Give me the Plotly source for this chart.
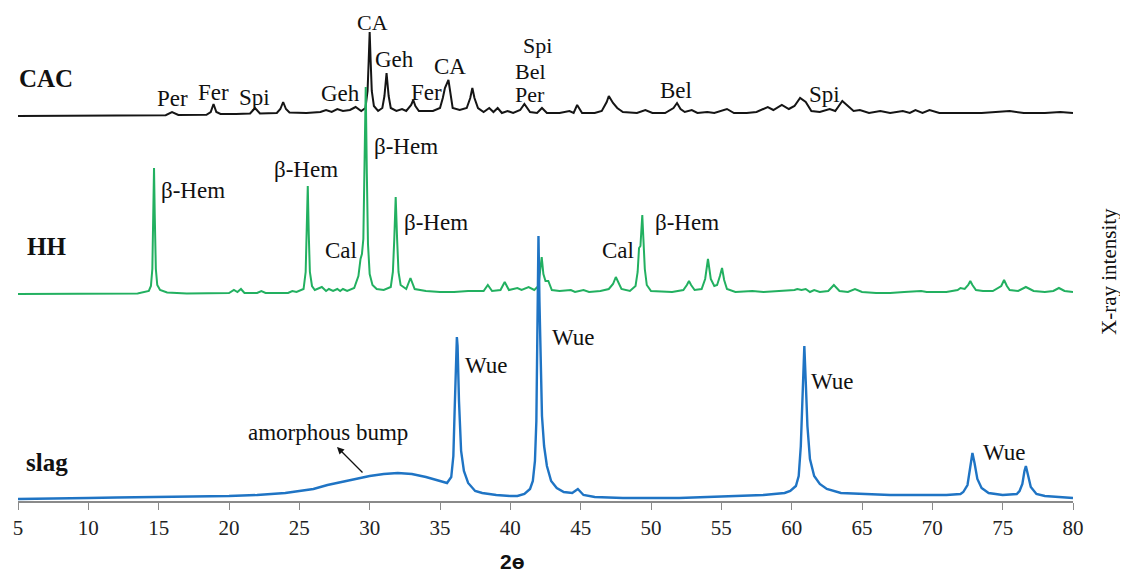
import plotly.graph_objects as go

# ---------------- data (2-theta in degrees, intensity in arbitrary units above each baseline) ----------------
cac_2theta = [5.0, 8.0, 12.0, 15.5, 15.95, 16.4, 18.4, 18.7, 18.9, 19.1, 19.4, 20.5, 21.5, 21.85, 22.2,
              23.4, 23.65, 23.85, 24.05, 24.3, 25.5, 26.5, 26.9, 27.3, 27.7, 28.1, 28.6, 29.0, 29.4,
              29.7, 29.85, 29.93, 30.0, 30.07, 30.15, 30.3, 30.6, 30.9, 31.05, 31.2, 31.35, 31.5, 31.9,
              32.3, 32.6, 32.95, 33.1, 33.25, 33.5, 34.5, 35.0, 35.2, 35.35, 35.6, 35.75, 35.9, 36.4,
              36.9, 37.15, 37.3, 37.45, 37.7, 38.1, 38.5, 38.8, 39.1, 39.4, 39.8, 40.2, 40.7, 41.0,
              41.4, 41.9, 42.25, 42.6, 43.5, 44.2, 44.5, 44.75, 45.1, 46.0, 46.5, 46.85, 47.0, 47.3,
              47.6, 48.0, 49.0, 49.6, 50.1, 51.0, 51.6, 51.85, 52.1, 52.4, 52.9, 53.3, 54.0, 54.5,
              55.4, 55.9, 56.8, 57.5, 58.3, 58.7, 59.3, 59.8, 60.2, 60.6, 61.0, 61.4, 62.0, 62.7,
              63.1, 63.6, 64.0, 64.4, 64.85, 65.5, 66.3, 67.0, 67.9, 68.4, 68.8, 69.3, 69.8, 70.5,
              72.0, 73.5, 75.5, 76.5, 78.0, 79.1, 80.0]
cac_int = [0, 0.5, 0.5, 0.8, 4, 1, 1.2, 4, 12, 4, 2, 2, 2.5, 8, 2.5,
           3, 7, 14, 7, 3.5, 3, 4, 6, 4, 7, 5, 6, 9, 5,
           8, 25, 55, 84, 55, 25, 10, 5, 8, 20, 43, 20, 8, 5,
           7, 5, 11, 16, 10, 5, 5, 8, 18, 28, 36, 20, 8, 6,
           8, 18, 28, 18, 8, 4, 8, 4, 8, 3, 5, 3, 6, 12,
           4, 3, 8, 3, 3, 5, 3, 11, 3, 3, 5, 14, 20, 13,
           8, 4, 3, 6, 3, 3, 8, 13, 7, 4, 6, 3, 4, 3,
           7, 3, 3, 4, 9, 6, 11, 7, 10, 18, 14, 5, 4, 7,
           5, 15, 10, 5, 6, 3, 5, 3, 5, 3, 6, 3, 6, 3,
           3, 3, 5, 3, 3, 4, 3]

hh_2theta = [5.0, 10.0, 13.5, 14.3, 14.45, 14.55, 14.62, 14.67, 14.72, 14.8, 14.9, 15.1, 15.6, 17.0,
             20.0, 20.35, 20.6, 20.85, 21.1, 22.0, 22.3, 22.6, 24.2, 24.5, 24.8, 25.3, 25.45, 25.53,
             25.6, 25.67, 25.75, 25.9, 26.1, 26.6, 26.9, 27.1, 27.4, 27.7, 27.9, 28.1, 28.4, 28.9,
             29.2, 29.35, 29.45, 29.55, 29.62, 29.72, 29.8, 29.88, 30.0, 30.2, 30.5, 31.0, 31.5,
             31.65, 31.75, 31.85, 31.95, 32.05, 32.2, 32.6, 32.9, 33.2, 34.0, 35.0, 36.0, 37.0, 38.1,
             38.4, 38.7, 39.3, 39.6, 39.9, 40.5, 40.8, 41.3, 41.7, 42.0, 42.1, 42.23, 42.35, 42.5,
             42.7, 42.95, 43.5, 44.3, 44.6, 45.2, 45.6, 46.4, 47.0, 47.3, 47.5, 47.7, 47.9, 48.5,
             48.9, 49.05, 49.15, 49.25, 49.32, 49.38, 49.46, 49.56, 49.7, 50.0, 51.5, 52.3, 52.55,
             52.7, 52.85, 53.1, 53.6, 53.85, 54.05, 54.25, 54.5, 54.7, 54.9, 55.05, 55.2, 55.4, 56.0,
             57.2, 58.0, 59.5, 60.2, 60.4, 60.7, 61.0, 61.3, 61.6, 62.0, 62.6, 63.0, 63.4, 64.0,
             64.5, 65.0, 66.0, 67.0, 68.0, 69.2, 69.6, 71.0, 71.8, 72.0, 72.3, 72.55, 72.7, 72.85,
             73.1, 73.6, 74.3, 74.9, 75.1, 75.3, 75.5, 76.1, 76.65, 77.2, 78.0, 78.6, 79.0, 79.4, 80.0]
hh_int = [0, 0, 0.5, 3, 8, 25, 80, 126, 80, 25, 9, 4, 1.5, 0.5,
          1, 4, 2, 5, 1, 1, 3, 1, 1, 3, 2, 5, 22, 60,
          108, 60, 22, 8, 4, 7, 3, 5, 3, 5, 3, 5, 3, 6,
          18, 35, 40, 55, 120, 207, 120, 50, 20, 9, 5, 4, 7,
          22, 55, 97, 55, 22, 9, 5, 16, 5, 3, 2, 2, 3, 3,
          9, 3, 4, 12, 4, 6, 4, 7, 4, 8, 20, 37, 20, 13,
          13, 4, 3, 4, 2, 4, 2, 3, 5, 10, 17, 10, 5, 3,
          8, 22, 46, 48, 65, 79, 55, 25, 9, 3, 2, 4, 9,
          13, 9, 4, 5, 15, 35, 15, 8, 9, 18, 26, 14, 5, 2,
          3, 2, 3, 4, 5, 4, 5, 2, 4, 2, 3, 9, 3, 2,
          5, 2, 1, 1, 2, 3, 2, 2, 4, 6, 5, 9, 13, 9,
          4, 3, 3, 8, 14, 8, 4, 3, 7, 3, 2, 3, 6, 3, 2]

slag_2theta = [5.0, 8.0, 10.0, 12.0, 15.0, 18.0, 20.0, 22.0, 24.0, 25.0, 26.0, 27.0, 28.0, 29.0,
               30.0, 31.0, 32.0, 33.0, 34.0, 35.0, 35.5, 35.8, 35.95, 36.05, 36.15, 36.2, 36.25, 36.35,
               36.5, 36.7, 37.0, 37.5, 38.0, 39.0, 40.0, 40.5, 41.0, 41.4, 41.6, 41.75, 41.85, 41.93,
               42.0, 42.07, 42.15, 42.25, 42.4, 42.6, 42.9, 43.3, 43.8, 44.4, 44.8, 45.2, 46.0, 48.0,
               50.0, 52.0, 54.0, 56.0, 58.0, 59.5, 59.9, 60.3, 60.5, 60.65, 60.78, 60.9, 61.0, 61.12,
               61.3, 61.6, 62.0, 62.5, 63.5, 65.0, 67.0, 69.0, 71.0, 72.0, 72.2, 72.5, 72.7, 72.85,
               73.0, 73.2, 73.5, 74.0, 75.0, 76.0, 76.2, 76.4, 76.55, 76.65, 76.8, 77.0, 77.4, 78.0,
               79.0, 80.0]
slag_int = [2, 3, 3, 3.5, 4, 4, 5, 6, 8, 10, 12, 16, 19, 22,
            25, 27, 28, 27, 24, 20, 18, 24, 45, 95, 155, 164, 155, 100,
            50, 30, 18, 10, 8, 6, 5, 5, 7, 12, 20, 40, 80, 170,
            265, 200, 130, 85, 55, 35, 20, 13, 9, 8, 12, 6, 4, 3,
            3, 3, 4, 5, 6, 8, 10, 15, 25, 55, 110, 155, 120, 75,
            42, 25, 17, 12, 8, 7, 6, 6, 6, 7, 9, 16, 32, 48,
            38, 22, 13, 8, 6, 7, 10, 17, 30, 35, 26, 14, 7, 5,
            4, 3]

cac_offset = 385
hh_offset = 207
slag_offset = 0

tick_vals = list(range(5, 81, 5))
tick_text = [str(v) for v in tick_vals]

assert len(cac_2theta) == len(cac_int)
assert len(hh_2theta) == len(hh_int)
assert len(slag_2theta) == len(slag_int)

# ---------------- figure ----------------
PAGE = 8                     # default body margin of the html page
W, H = 1120, 566
ML, MR, MT, MB = 10, 55, 2, 73
plot_w = W - ML - MR
plot_h = H - MT - MB
X0, X1 = 5, 80
left_px = PAGE + ML
bottom_px = PAGE + H - MB
px_per_deg = plot_w / (X1 - X0)


def dx(px):
    return X0 + (px - left_px) / px_per_deg


def dy(py):
    return bottom_px - py


fig = go.Figure()
fig.add_trace(go.Scatter(x=cac_2theta, y=[v + cac_offset for v in cac_int], mode="lines",
                         line=dict(color="#151515", width=2), hoverinfo="skip", name="CAC"))
fig.add_trace(go.Scatter(x=hh_2theta, y=[v + hh_offset for v in hh_int], mode="lines",
                         line=dict(color="#22b060", width=2), hoverinfo="skip", name="HH"))
fig.add_trace(go.Scatter(x=slag_2theta, y=[v + slag_offset for v in slag_int], mode="lines",
                         line=dict(color="#1f74c4", width=2.4), hoverinfo="skip", name="slag"))

serif = "Liberation Serif, Times New Roman, serif"
ann = []


def lab(text, px, py, size=23, bold=False):
    ann.append(dict(x=dx(px), y=dy(py), xref="x", yref="y", text=("<b>%s</b>" % text) if bold else text,
                    showarrow=False, font=dict(family=serif, size=size, color="#111"),
                    xanchor="center", yanchor="middle", borderpad=0))


# sample names
lab("CAC", 46, 78, 25, True)
lab("HH", 46, 246, 25, True)
lab("slag", 47, 462, 25, True)
# CAC phases
lab("Per", 172, 98)
lab("Fer", 213, 92)
lab("Spi", 254, 97)
lab("Geh", 340, 93)
lab("CA", 372, 22, 22)
lab("Geh", 394, 59)
lab("Fer", 426, 92)
lab("CA", 450, 66)
lab("Spi", 537, 45, 22)
lab("Bel", 530, 71, 22)
lab("Per", 530, 94, 22)
lab("Bel", 676, 90)
lab("Spi", 824, 94)
# HH phases
lab("β-Hem", 193, 190)
lab("β-Hem", 306, 169)
lab("Cal", 341, 250)
lab("β-Hem", 406, 146)
lab("β-Hem", 436, 222)
lab("Cal", 618, 250)
lab("β-Hem", 687, 222)
# slag phases
lab("Wue", 486, 365)
lab("Wue", 573, 337)
lab("Wue", 832, 381)
lab("Wue", 1004, 452)
lab("amorphous bump", 328, 432)

# arrow
ann.append(dict(x=dx(337), y=dy(447), xref="x", yref="y", text="", showarrow=True,
                ax=27, ay=27, arrowhead=2, arrowsize=1.1, arrowwidth=1.3, arrowcolor="#111"))

# axis titles
ann.append(dict(x=(512 - left_px) / plot_w, y=(bottom_px - 561) / plot_h, xref="paper", yref="paper",
                text="<b>2ɵ</b>", showarrow=False,
                font=dict(family="Liberation Sans, Arial, sans-serif", size=21, color="#111"),
                xanchor="center", yanchor="middle"))
ann.append(dict(x=(1109 - left_px) / plot_w, y=(bottom_px - 272) / plot_h, xref="paper", yref="paper",
                text="X-ray intensity", showarrow=False, textangle=-90,
                font=dict(family=serif, size=21, color="#111"),
                xanchor="center", yanchor="middle"))

fig.update_layout(
    width=W, height=H,
    margin=dict(l=ML, r=MR, t=MT, b=MB, pad=0),
    paper_bgcolor="white", plot_bgcolor="white",
    showlegend=False,
    annotations=ann,
    xaxis=dict(range=[X0, X1], tickvals=tick_vals, ticktext=tick_text, showgrid=False, zeroline=False,
               showline=True, linecolor="#8a8a8a", linewidth=1.5, ticks="outside", ticklen=7,
               tickcolor="#8a8a8a", tickwidth=1.2,
               tickfont=dict(family=serif, size=21, color="#222")),
    yaxis=dict(range=[0, plot_h], showgrid=False, zeroline=False, showline=False,
               showticklabels=False, ticks=""),
)

fig.write_html("out.html")
